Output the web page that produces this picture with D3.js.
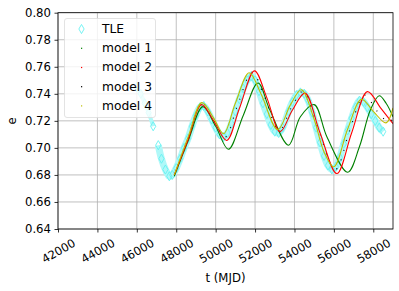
<!DOCTYPE html>
<html>
<head>
<meta charset="utf-8">
<script src="https://cdn.jsdelivr.net/npm/d3@7"></script>
<style>
  body { margin: 0; background: #fff; }
  text { font-family: "DejaVu Sans", sans-serif; fill: #000; }
</style>
</head>
<body>
<svg width="399" height="291"></svg>
<script>
// TLE observations (t in MJD, eccentricity)
const tleT = [45990, 46200, 46400, 46600, 46830, 47090, 47250, 47450, 47650, 47800,
  48000, 48200, 48400, 48600, 48800, 49000, 49200, 49400, 49600, 49800, 50000, 50200, 50400,
  50600, 50800, 51000, 51200, 51400, 51600, 51800, 52000, 52200, 52400, 52600, 52800, 53000,
  53200, 53400, 53700, 53900, 54100, 54300, 54500, 54700, 54900, 55100, 55300, 55500, 55700,
  55900, 56100, 56300, 56500, 56700, 56900, 57100, 57300, 57500, 57700, 57900, 58100, 58300, 58500];
const tleE = [0.745, 0.740, 0.733, 0.726, 0.716, 0.702, 0.692, 0.684, 0.679, 0.680,
  0.685, 0.692, 0.700, 0.707, 0.716, 0.724, 0.730, 0.731, 0.727, 0.721, 0.715, 0.710, 0.708,
  0.711, 0.718, 0.727, 0.736, 0.744, 0.750, 0.753, 0.750, 0.742, 0.733, 0.725, 0.717, 0.712,
  0.711, 0.715, 0.727, 0.734, 0.739, 0.741, 0.740, 0.735, 0.726, 0.715, 0.704, 0.694, 0.687,
  0.684, 0.686, 0.693, 0.703, 0.713, 0.722, 0.730, 0.735, 0.734, 0.730, 0.725, 0.720, 0.715, 0.712];

// model 1 (green)
const m1T = [47900, 48600, 49350, 50000, 50650, 51400, 52150, 52750, 53700, 54300, 55000, 55650, 56700, 57300, 57850, 58300, 58650, 59000];
const m1E = [0.679, 0.705, 0.7305, 0.716, 0.699, 0.724, 0.748, 0.728, 0.702, 0.723, 0.732, 0.708, 0.682, 0.701, 0.728, 0.7386, 0.733, 0.723];
// model 2 (red)
const m2T = [47900, 48600, 49280, 49900, 50560, 51200, 51970, 52600, 53270, 53900, 54530, 55300, 56150, 56900, 57700, 58400, 59000];
const m2E = [0.680, 0.706, 0.732, 0.720, 0.7055, 0.729, 0.757, 0.737, 0.712, 0.728, 0.7405, 0.711, 0.681, 0.711, 0.7416, 0.729, 0.718];
// model 3 (black)
const m3T = [47900, 48600, 49290, 49900, 50480, 51100, 51850, 52450, 53220, 53850, 54450, 55150, 56080, 56800, 57550, 58200, 58800, 59000];
const m3E = [0.680, 0.707, 0.733, 0.721, 0.708, 0.731, 0.756, 0.739, 0.713, 0.730, 0.742, 0.716, 0.684, 0.713, 0.739, 0.727, 0.719, 0.722];
// model 4 (yellow)
const m4T = [47900, 48600, 49300, 49900, 50400, 51000, 51700, 52300, 53150, 53800, 54350, 55000, 55500, 56000, 56700, 57400, 58000, 58650, 59000];
const m4E = [0.680, 0.708, 0.7335, 0.722, 0.7105, 0.733, 0.7556, 0.740, 0.7135, 0.732, 0.743, 0.721, 0.697, 0.686, 0.714, 0.736, 0.727, 0.7185, 0.7295];

const xTicks = [42000, 44000, 46000, 48000, 50000, 52000, 54000, 56000, 58000];
const yTicks = [0.64, 0.66, 0.68, 0.70, 0.72, 0.74, 0.76, 0.78, 0.80];

const legendLabels = ['TLE', 'model 1', 'model 2', 'model 3', 'model 4'];
const modelColors = ['#008000', '#ff0000', '#000000', '#bfbf00'];

const svg = d3.select('svg');
const pLeft = 58, pRight = 393, pTop = 12.7, pBottom = 229;

const x = d3.scaleLinear().domain([42000, 59000]).range([pLeft, pRight]);
const y = d3.scaleLinear().domain([0.64, 0.80]).range([pBottom, pTop]);

const plot = svg.append('g');
plot.append('defs').append('clipPath').attr('id', 'clip')
  .append('rect').attr('x', pLeft).attr('y', pTop).attr('width', pRight - pLeft).attr('height', pBottom - pTop);

// grid
plot.append('g').selectAll('line').data(xTicks).enter().append('line')
  .attr('x1', d => x(d)).attr('x2', d => x(d)).attr('y1', pTop).attr('y2', pBottom)
  .attr('stroke', '#b0b0b0').attr('stroke-width', 0.8);
plot.append('g').selectAll('line').data(yTicks).enter().append('line')
  .attr('y1', d => y(d)).attr('y2', d => y(d)).attr('x1', pLeft).attr('x2', pRight)
  .attr('stroke', '#b0b0b0').attr('stroke-width', 0.8);

const marks = plot.append('g').attr('clip-path', 'url(#clip)');

// TLE band + hollow diamonds
const tle = tleT.map((t, i) => [t, tleE[i]]);
const line = d3.line().x(d => x(d[0])).y(d => y(d[1])).curve(d3.curveCatmullRom);
marks.append('path').datum(tle.slice(0, 5)).attr('d', line)
  .attr('fill', 'none').attr('stroke', '#b0f8f8').attr('stroke-width', 4);
marks.append('path').datum(tle.slice(5)).attr('d', line)
  .attr('fill', 'none').attr('stroke', '#b0f8f8').attr('stroke-width', 7);
const diamond = d3.symbol().type(d3.symbolDiamond).size(24);
marks.append('g').selectAll('path').data(tle).enter().append('path')
  .attr('d', diamond)
  .attr('transform', d => `translate(${x(d[0])},${y(d[1])})`)
  .attr('fill', 'none').attr('stroke', '#66f2f2').attr('stroke-width', 0.9);

// models
const models = [[m1T, m1E], [m3T, m3E], [m2T, m2E], [m4T, m4E]];
const modelCol = [modelColors[0], modelColors[2], modelColors[1], modelColors[3]];
models.forEach((m, k) => {
  const pts = m[0].map((t, i) => [t, m[1][i]]);
  marks.append('path').datum(pts).attr('d', line)
    .attr('fill', 'none').attr('stroke', modelCol[k])
    .attr('stroke-width', 1.1)
    .attr('stroke-dasharray', modelCol[k] === '#000000' ? '1,9' : null);
});

// axes
const xAxis = svg.append('g').attr('transform', `translate(0,${pBottom})`)
  .call(d3.axisBottom(x).tickValues(xTicks).tickSize(3.5).tickPadding(3).tickFormat(d3.format('d')));
xAxis.select('.domain').remove();
xAxis.selectAll('text')
  .attr('font-size', '11.5px')
  .attr('text-anchor', 'middle')
  .attr('dy', null).attr('y', null)
  .attr('transform', 'translate(0,22) rotate(-30)')
  .attr('dominant-baseline', 'central');

const yAxis = svg.append('g').attr('transform', `translate(${pLeft},0)`)
  .call(d3.axisLeft(y).tickValues(yTicks).tickSize(3.5).tickPadding(3.5).tickFormat(d3.format('.2f')));
yAxis.select('.domain').remove();
yAxis.selectAll('text').attr('font-size', '11.7px');
svg.selectAll('.tick line').attr('stroke', '#000').attr('stroke-width', 0.8);

svg.append('rect').attr('x', pLeft).attr('y', pTop).attr('width', pRight - pLeft).attr('height', pBottom - pTop)
  .attr('fill', 'none').attr('stroke', '#000').attr('stroke-width', 0.8);

svg.append('text').attr('x', (pLeft + pRight) / 2).attr('y', 282)
  .attr('text-anchor', 'middle').attr('font-size', '11.7px').text('t (MJD)');
svg.append('text').attr('transform', `translate(16,${(pTop + pBottom) / 2}) rotate(-90)`)
  .attr('text-anchor', 'middle').attr('font-size', '11.7px').text('e');

// legend
const lg = svg.append('g');
lg.append('rect').attr('x', 64.5).attr('y', 18.5).attr('width', 91).attr('height', 99).attr('rx', 2.5)
  .attr('fill', 'rgba(255,255,255,0.8)').attr('stroke', '#dcdcdc').attr('stroke-width', 0.8);
legendLabels.forEach((lab, i) => {
  const cy = 29 + i * 19.2;
  if (i === 0) {
    lg.append('path').attr('d', diamond).attr('transform', `translate(81.5,${cy})`)
      .attr('fill', 'none').attr('stroke', '#66f2f2').attr('stroke-width', 0.9);
  } else {
    lg.append('rect').attr('x', 81).attr('y', cy - 0.5).attr('width', 1.2).attr('height', 1.2)
      .attr('fill', modelColors[i - 1]);
  }
  lg.append('text').attr('x', 102).attr('y', cy).attr('dominant-baseline', 'central')
    .attr('font-size', '12.3px').text(lab);
});
</script>
</body>
</html>
